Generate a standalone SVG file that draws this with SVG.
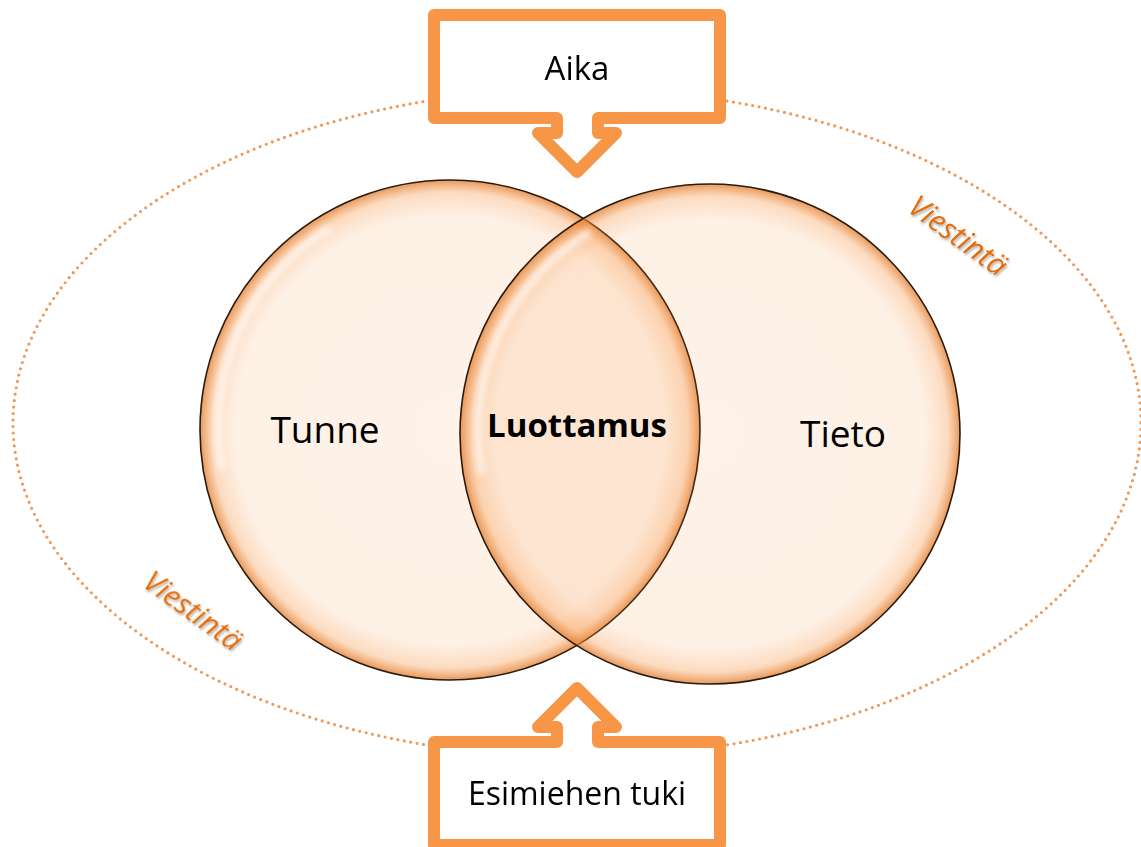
<svg xmlns="http://www.w3.org/2000/svg" width="1141" height="847" viewBox="0 0 1141 847">
  <defs>
    <style>
      .lbl { font-family: "Open Sans", "Liberation Sans", sans-serif; fill: #000; text-anchor: middle; }
      .viest { font-family: "Open Sans", "Liberation Sans", sans-serif; font-style: italic; font-size: 30px; fill: #E46C0A; text-anchor: middle; }
      .callout { fill: #fff; stroke: #F79646; stroke-width: 12; stroke-linejoin: round; }
      .disc { stroke: #2a1a0c; stroke-width: 1.6; }
    </style>
    <radialGradient id="discFill" cx="50%" cy="50%" r="50%">
      <stop offset="0" stop-color="#F79646" stop-opacity="0.12"/>
      <stop offset="0.86" stop-color="#F79646" stop-opacity="0.14"/>
      <stop offset="0.95" stop-color="#F79646" stop-opacity="0.34"/>
      <stop offset="1" stop-color="#E07E32" stop-opacity="0.8"/>
    </radialGradient>
    <filter id="soft" x="-10%" y="-10%" width="120%" height="120%">
      <feGaussianBlur stdDeviation="3"/>
    </filter>
    <filter id="txtShadow" x="-10%" y="-30%" width="120%" height="160%">
      <feDropShadow dx="1" dy="2" stdDeviation="1.2" flood-color="#000" flood-opacity="0.3"/>
    </filter>
  </defs>

  <!-- dotted communication boundary -->
  <ellipse cx="577" cy="423" rx="564" ry="334" fill="none" stroke="#EE9A5C" stroke-width="3.2" stroke-linecap="round" stroke-dasharray="0 6.5"/>

  <!-- Venn discs -->
  <g id="tunne">
    <circle class="disc" cx="450" cy="430" r="250" fill="url(#discFill)"/>
    <path d="M222,470 A232,232 0 0 1 330,228" fill="none" stroke="#fff" stroke-width="5" stroke-opacity="0.85" filter="url(#soft)"/>
  </g>
  <g id="tieto">
    <circle class="disc" cx="710" cy="434" r="250" fill="url(#discFill)"/>
    <path d="M482,474 A232,232 0 0 1 590,232" fill="none" stroke="#fff" stroke-width="5" stroke-opacity="0.85" filter="url(#soft)"/>
  </g>

  <!-- labels -->
  <g id="labels">
    <text class="lbl" x="325" y="443" font-size="37">Tunne</text>
    <text class="lbl" x="577" y="437" font-size="33" font-weight="bold">Luottamus</text>
    <text class="lbl" x="843" y="447" font-size="37">Tieto</text>
  </g>
  <g id="viestinta" filter="url(#txtShadow)">
    <text class="viest" transform="translate(958,236) rotate(36)" y="10">Viestintä</text>
    <text class="viest" transform="translate(193,611) rotate(36)" y="10">Viestintä</text>
  </g>

  <!-- arrow callouts -->
  <g id="aika">
    <path class="callout" d="M434,15 H720 V118 H598 V133 H616 L577,172 L538,133 H557 V118 H434 Z"/>
    <text class="lbl" x="577" y="80" font-size="33">Aika</text>
  </g>
  <g id="esimiehen-tuki">
    <path class="callout" d="M434,845 H720 V742 H598 V727 H616 L577,688 L538,727 H557 V742 H434 Z"/>
    <text class="lbl" x="577" y="805" font-size="32">Esimiehen tuki</text>
  </g>
</svg>
